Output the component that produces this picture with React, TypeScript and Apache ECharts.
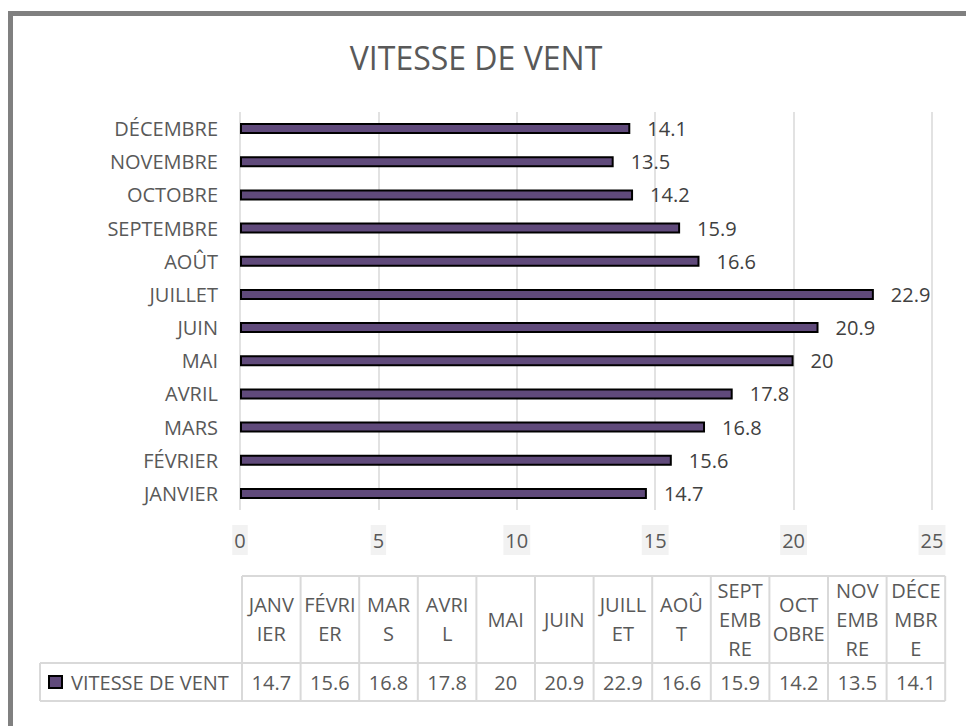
import React, { useEffect, useRef } from "react";
import * as echarts from "echarts";

const title = "VITESSE DE VENT";
const seriesName = "VITESSE DE VENT";
const categories = [
  "JANVIER", "FÉVRIER", "MARS", "AVRIL", "MAI", "JUIN",
  "JUILLET", "AOÛT", "SEPTEMBRE", "OCTOBRE", "NOVEMBRE", "DÉCEMBRE",
];
const values = [14.7, 15.6, 16.8, 17.8, 20, 20.9, 22.9, 16.6, 15.9, 14.2, 13.5, 14.1];
const tableHeaders = [
  "JANV\nIER", "FÉVRI\nER", "MAR\nS", "AVRI\nL", "MAI", "JUIN",
  "JUILL\nET", "AOÛ\nT", "SEPT\nEMB\nRE", "OCT\nOBRE", "NOV\nEMB\nRE", "DÉCE\nMBR\nE",
];
const xTicks = { min: 0, max: 25, interval: 5 };

const FONT = "'Open Sans', sans-serif";
const TEXT = "#595959";
const GRID = "#d9d9d9";
const BAR = "#604A7B";
const FS = 20;

export default function App() {
  const ref = useRef<HTMLDivElement>(null);
  useEffect(() => {
    document.body.style.margin = "0";
    const chart = echarts.init(ref.current!, undefined, { renderer: "svg" });

    const tX0 = 242;
    const colW = 58.6;
    const tX1 = tX0 + colW * categories.length;
    const hTop = 576;
    const hBot = 663;
    const rBot = 701;
    const legX0 = 40;
    const lineStyle = { stroke: GRID, lineWidth: 2 };
    const g: any[] = [];
    g.push({
      type: "rect",
      shape: { x: 10.5, y: 13.5, width: 1000, height: 800 },
      style: { fill: "none", stroke: "#808080", lineWidth: 5 },
    });
    g.push({
      type: "text",
      x: 476,
      y: 57,
      style: { text: title, fill: TEXT, font: `32px ${FONT}`, textAlign: "center", textVerticalAlign: "middle" },
    });
    g.push({ type: "line", shape: { x1: tX0, y1: hTop, x2: tX1, y2: hTop }, style: lineStyle });
    g.push({ type: "line", shape: { x1: legX0, y1: hBot, x2: tX1, y2: hBot }, style: lineStyle });
    g.push({ type: "line", shape: { x1: legX0, y1: rBot, x2: tX1, y2: rBot }, style: lineStyle });
    g.push({ type: "line", shape: { x1: legX0, y1: hBot, x2: legX0, y2: rBot }, style: lineStyle });
    for (let i = 0; i <= categories.length; i++) {
      const x = tX0 + i * colW;
      g.push({ type: "line", shape: { x1: x, y1: hTop, x2: x, y2: rBot }, style: lineStyle });
    }
    tableHeaders.forEach((h, i) => {
      g.push({
        type: "text",
        x: tX0 + (i + 0.5) * colW,
        y: 619,
        style: { text: h, fill: TEXT, font: `${FS}px ${FONT}`, lineHeight: 29, textAlign: "center", textVerticalAlign: "middle" },
      });
    });
    values.forEach((v, i) => {
      g.push({
        type: "text",
        x: tX0 + (i + 0.5) * colW,
        y: 682,
        style: { text: String(v), fill: TEXT, font: `${FS}px ${FONT}`, textAlign: "center", textVerticalAlign: "middle" },
      });
    });
    g.push({
      type: "rect",
      shape: { x: 49, y: 676, width: 13, height: 12 },
      style: { fill: BAR, stroke: "#000", lineWidth: 2 },
    });
    g.push({
      type: "text",
      x: 71,
      y: 682,
      style: { text: seriesName, fill: TEXT, font: `${FS}px ${FONT}`, textAlign: "left", textVerticalAlign: "middle" },
    });

    chart.setOption({
      animation: false,
      grid: { left: 240, right: 34, top: 112, bottom: 216, containLabel: false },
      xAxis: {
        type: "value",
        min: xTicks.min,
        max: xTicks.max,
        interval: xTicks.interval,
        axisLine: { show: false },
        axisTick: { show: false },
        splitLine: { show: true, lineStyle: { color: GRID, width: 1.5 } },
        axisLabel: {
          color: TEXT,
          fontSize: FS,
          fontFamily: FONT,
          backgroundColor: "#f2f2f2",
          padding: [5, 2],
          margin: 15,
        },
      },
      yAxis: {
        type: "category",
        data: categories,
        axisLine: { show: false },
        axisTick: { show: false },
        axisLabel: { color: TEXT, fontSize: FS, fontFamily: FONT, margin: 22 },
      },
      series: [
        {
          type: "bar",
          name: seriesName,
          data: values,
          barWidth: 11,
          itemStyle: { color: BAR, borderColor: "#000", borderWidth: 2 },
          label: { show: true, position: "right", distance: 17, color: "#404040", fontSize: FS, fontFamily: FONT },
        },
      ],
      graphic: g,
    });
    return () => chart.dispose();
  }, []);
  return <div ref={ref} style={{ width: 966, height: 726, overflow: "hidden" }} />;
}
